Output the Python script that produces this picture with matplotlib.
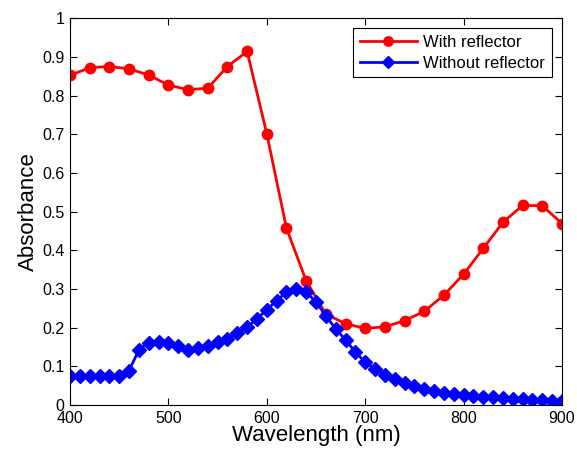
import matplotlib
matplotlib.use("Agg")
import matplotlib.pyplot as plt
import numpy as np

plt.rcParams['font.family'] = ['Liberation Sans', 'DejaVu Sans']

wl_red = list(range(400, 901, 20))
abs_red = [0.852, 0.872, 0.875, 0.869, 0.853, 0.827, 0.815, 0.819, 0.875, 0.914,
           0.701, 0.457, 0.321, 0.235, 0.210, 0.198, 0.202, 0.218, 0.242, 0.284,
           0.338, 0.405, 0.472, 0.516, 0.515, 0.469]

wl_blue = list(range(400, 901, 10))
abs_blue = [0.075, 0.075, 0.075, 0.075, 0.075, 0.075, 0.089, 0.142, 0.161, 0.164,
            0.161, 0.153, 0.142, 0.146, 0.153, 0.162, 0.171, 0.185, 0.201, 0.223,
            0.246, 0.270, 0.291, 0.300, 0.291, 0.267, 0.230, 0.197, 0.168, 0.137,
            0.110, 0.093, 0.078, 0.066, 0.056, 0.049, 0.042, 0.037, 0.032, 0.028,
            0.026, 0.024, 0.021, 0.020, 0.018, 0.016, 0.015, 0.014, 0.013, 0.011,
            0.009]

fig = plt.figure(figsize=(5.77, 4.54), dpi=100)
ax = fig.add_axes([0.1213, 0.108, 0.8527, 0.852])
ax.plot(wl_red, abs_red, '-o', color='#ff0000', lw=2, ms=7.5, label='With reflector')
ax.plot(wl_blue, abs_blue, '-D', color='#0000ff', lw=2, ms=7, label='Without reflector')
ax.set_xlim(400, 900)
ax.set_ylim(0, 1)
ax.set_xticks(range(400, 901, 100))
ax.set_yticks(np.arange(0, 1.01, 0.1))
ax.set_yticklabels(['0', '0.1', '0.2', '0.3', '0.4', '0.5', '0.6', '0.7', '0.8', '0.9', '1'])
ax.tick_params(direction='in', top=True, right=True, labelsize=11.5, length=5, width=0.8)
ax.tick_params(axis='x', pad=4)
ax.tick_params(axis='y', pad=4)
for s in ax.spines.values():
    s.set_linewidth(0.8)
ax.set_xlabel('Wavelength (nm)', fontsize=16, labelpad=-0.5)
ax.set_ylabel('Absorbance', fontsize=16, labelpad=2)
leg = ax.legend(loc='upper right', fontsize=12, fancybox=False, edgecolor='black',
                framealpha=1, borderaxespad=0.6, handlelength=3.4, borderpad=0.4,
                labelspacing=0.35, handletextpad=0.4, markerscale=0.9)
leg.get_frame().set_linewidth(0.8)
fig.savefig('out.png', dpi=100)
